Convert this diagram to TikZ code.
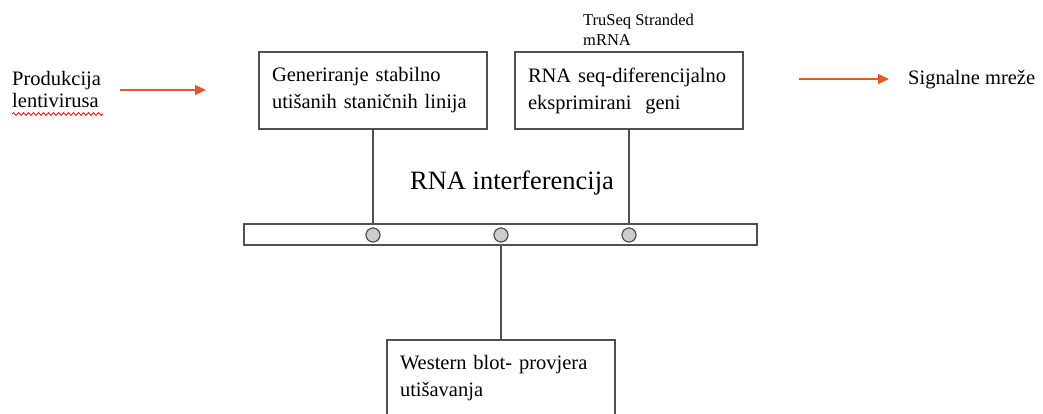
\documentclass[tikz,border=0pt]{standalone}
\usepackage{fontspec}
\setmainfont{Liberation Serif}
\usetikzlibrary{arrows.meta,decorations.pathmorphing}
\definecolor{strelica}{HTML}{E0592A}
\definecolor{rub}{HTML}{505050}
\definecolor{krug}{HTML}{CCCCCC}

\tikzset{
  kutija/.style={draw=rub, line width=1.2pt, minimum width=228pt, minimum height=77pt,
    text width=202pt, align=left, inner sep=0pt, font=\fontsize{20.5}{27}\selectfont},
  tekst/.style={align=left, inner sep=0pt, font=\fontsize{20.5}{22}\selectfont},
  veza/.style={draw=rub, line width=1.2pt},
  strel/.style={draw=strelica, line width=1.3pt, -{Triangle[length=11pt,width=10pt]}},
  kruzic/.style={circle, draw=rub, fill=krug, line width=1.2pt, minimum size=14pt, inner sep=0pt}
}

\begin{document}
\begin{tikzpicture}[x=1pt, y=-1pt]
\useasboundingbox (0,0) rectangle (1043,414);

% kutije
\node[kutija] (gen) at (373,90.5) {Generiranje stabilno\\utišanih staničnih linija};
\node[kutija] (rnaseq) at (629,90.5) {RNA seq-diferencijalno\\eksprimirani\ \ geni};
\node[kutija] (wb) at (501,378.5) {Western blot- provjera\\utišavanja};

% tekst
\node[tekst, anchor=west] (prod) at (12,89.5) {Produkcija\\lentivirusa};
\node[tekst, anchor=west] (sig) at (908,80) {Signalne mreže};
\node[tekst, anchor=west, font=\fontsize{16.5}{20}\selectfont] (truseq) at (583,30) {TruSeq Stranded\\mRNA};
\node[inner sep=0pt, font=\fontsize{26.5}{30}\selectfont] (rnai) at (512,183) {RNA interferencija};

% traka s kruzicima
\node[draw=rub, line width=1.2pt, minimum width=513pt, minimum height=21pt, inner sep=0pt] (bar) at (500.5,234.5) {};
\node[kruzic] (k1) at (373,235) {};
\node[kruzic] (k2) at (501,235) {};
\node[kruzic] (k3) at (629,235) {};

% veze
\draw[veza] (gen.south) -- (bar.north -| gen.south);
\draw[veza] (rnaseq.south) -- (bar.north -| rnaseq.south);
\draw[veza] (bar.south -| wb.north) -- (wb.north);

% strelice
\coordinate (s1a) at (120,90);
\coordinate (s1b) at (206,90);
\coordinate (s2a) at (799,79);
\coordinate (s2b) at (889,79);
\draw[strel] (s1a) -- (s1b);
\draw[strel] (s2a) -- (s2b);

% valovita crta
\draw[red, line width=0.8pt, decorate, decoration={snake, amplitude=1.4pt, segment length=5pt}] (12,114) -- (103,114);
\end{tikzpicture}
\end{document}
